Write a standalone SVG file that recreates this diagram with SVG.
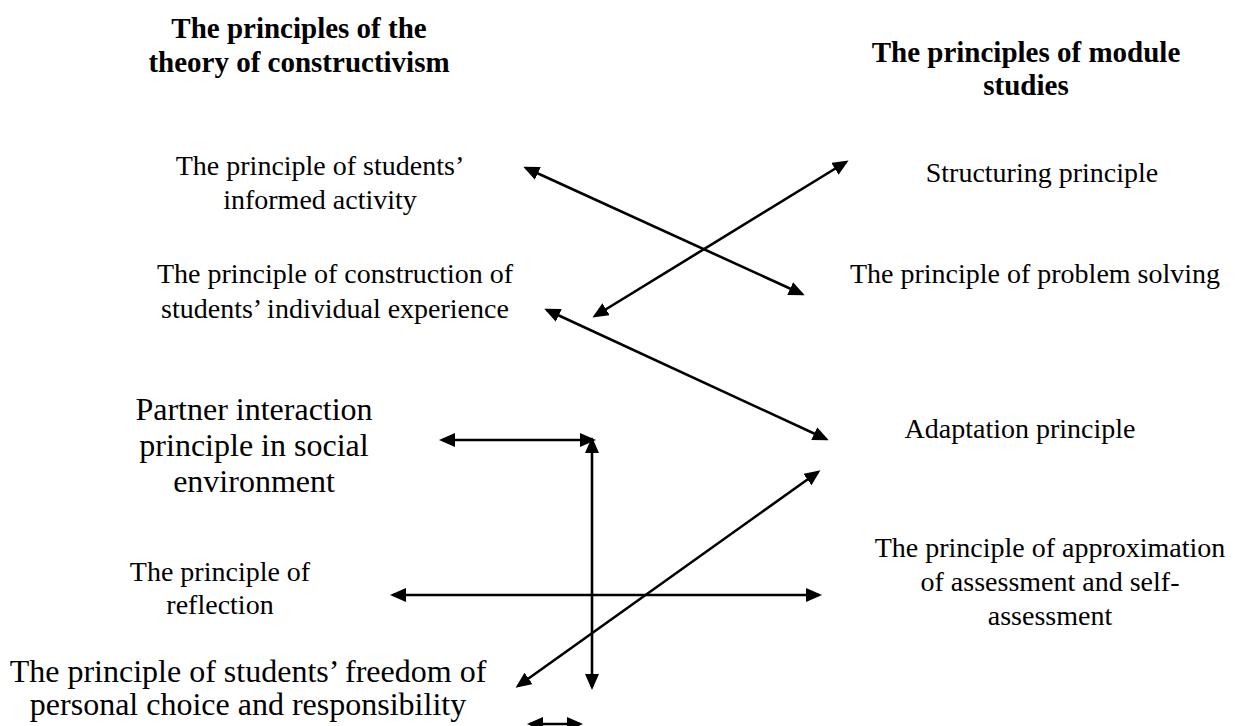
<svg xmlns="http://www.w3.org/2000/svg" width="1238" height="726" viewBox="0 0 1238 726">
<style>
text{font-family:"Liberation Serif","Times New Roman",serif;fill:#000;text-anchor:middle}
.h{font-weight:bold;font-size:29px}
.t{font-size:28px}
.L{font-size:32px}
.c line{stroke:#000;stroke-width:2.6;marker-start:url(#ah);marker-end:url(#ah)}
</style>
<defs>
<marker id="ah" markerUnits="userSpaceOnUse" markerWidth="18" markerHeight="16" refX="13" refY="7" orient="auto-start-reverse" viewBox="0 0 18 16">
<path d="M0,0 L16,7 L0,14 z" fill="#000"/>
</marker>
</defs>
<rect width="1238" height="726" fill="#fff"/>
<g id="head-left"><text class="h" x="299" y="38">The principles of the</text><text class="h" x="299" y="72">theory of constructivism</text></g>
<g id="head-right"><text class="h" x="1026" y="62">The principles of module</text><text class="h" x="1026" y="95">studies</text></g>
<g id="n-informed"><text class="t" x="320" y="175">The principle of students’</text><text class="t" x="320" y="209">informed activity</text></g>
<g id="n-construction"><text class="t" x="335" y="283">The principle of construction of</text><text class="t" x="335" y="318">students’ individual experience</text></g>
<g id="n-partner"><text class="L" x="254" y="420">Partner interaction</text><text class="L" x="254" y="456">principle in social</text><text class="L" x="254" y="492">environment</text></g>
<g id="n-reflection"><text class="t" x="220" y="581">The principle of</text><text class="t" x="220" y="614">reflection</text></g>
<g id="n-freedom"><text class="L" x="248" y="682">The principle of students’ freedom of</text><text class="L" x="248" y="715">personal choice and responsibility</text></g>
<g id="n-structuring"><text class="t" x="1042" y="182">Structuring principle</text></g>
<g id="n-problem"><text class="t" x="1035" y="283">The principle of problem solving</text></g>
<g id="n-adaptation"><text class="t" x="1020" y="438">Adaptation principle</text></g>
<g id="n-approx"><text class="t" x="1050" y="557">The principle of approximation</text><text class="t" x="1050" y="591">of assessment and self-</text><text class="t" x="1050" y="625">assessment</text></g>
<g id="connectors" class="c">
<line x1="526" y1="168" x2="802" y2="294"/>
<line x1="846" y1="162" x2="595" y2="316"/>
<line x1="547" y1="310" x2="826" y2="439"/>
<line x1="442" y1="440" x2="593" y2="440"/>
<line x1="592" y1="440" x2="592" y2="687"/>
<line x1="393" y1="595" x2="819" y2="595"/>
<line x1="818" y1="472" x2="518" y2="686"/>
<line x1="530" y1="724" x2="580" y2="724"/>
</g>
</svg>
